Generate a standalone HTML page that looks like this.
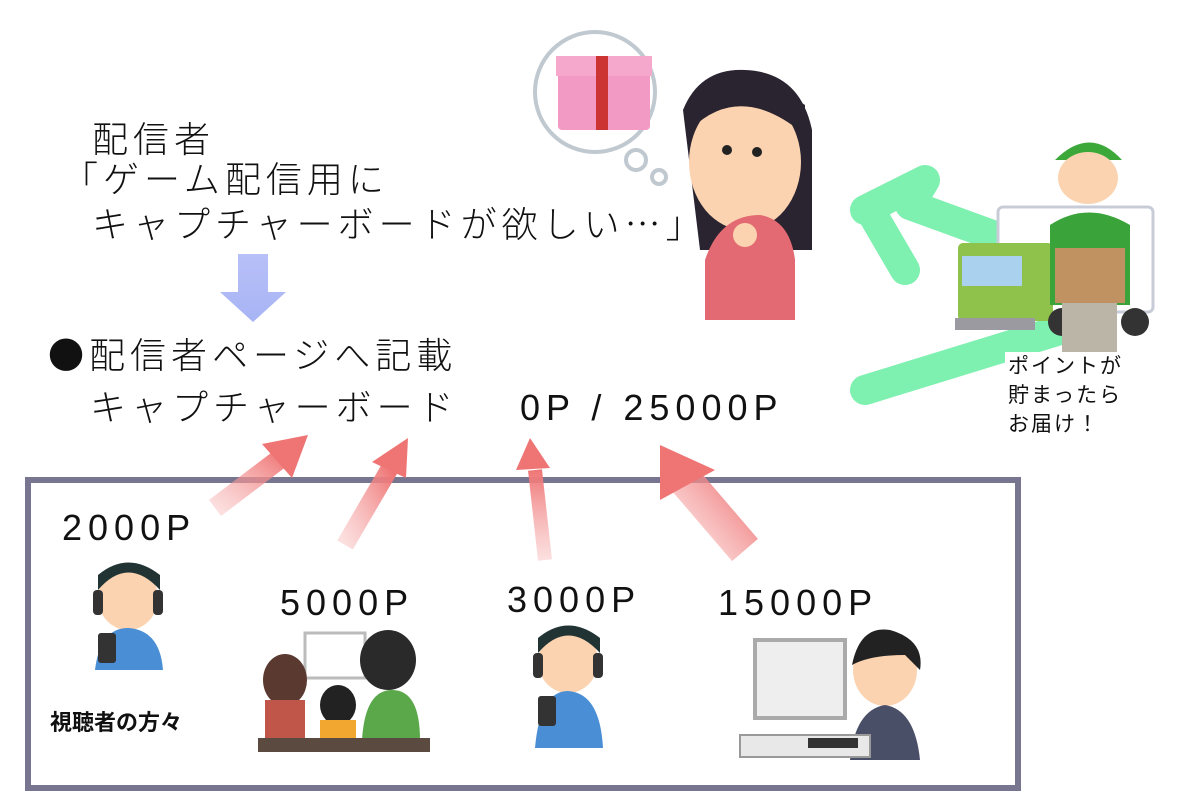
<!DOCTYPE html>
<html><head><meta charset="utf-8"><style>
html,body{margin:0;padding:0;background:#fff;}
svg{display:block;}
text{font-family:"Liberation Sans","Noto Sans CJK JP",sans-serif;fill:#111;}
.jp{font-family:"Noto Sans CJK JP",sans-serif;}
</style></head><body>
<svg width="1200" height="800" viewBox="0 0 1200 800" xmlns="http://www.w3.org/2000/svg">
<defs>
<linearGradient id="pg" x1="0" y1="1" x2="1" y2="0"><stop offset="0" stop-color="#f7b0b0" stop-opacity="0.4"/><stop offset="1" stop-color="#ef7575"/></linearGradient>
<linearGradient id="pg2" x1="0" y1="1" x2="0" y2="0"><stop offset="0" stop-color="#f7b0b0" stop-opacity="0.4"/><stop offset="1" stop-color="#ef7575"/></linearGradient>
<linearGradient id="bg" x1="0" y1="0" x2="0" y2="1"><stop offset="0" stop-color="#b8c0f8"/><stop offset="1" stop-color="#a7b4f4"/></linearGradient>
</defs>
<!-- texts -->
<g font-size="36" font-weight="300" class="jp">
<text class="jp" x="92" y="152" letter-spacing="5">配信者</text>
<text class="jp" x="62" y="192" letter-spacing="5">「ゲーム配信用に</text>
<text class="jp" x="92" y="237" letter-spacing="5">キャプチャーボードが欲しい…」</text>
<text class="jp" x="48" y="368" letter-spacing="5">●配信者ページへ記載</text>
<text class="jp" x="90" y="420" letter-spacing="5">キャプチャーボード</text>
</g>
<text x="520" y="420" font-size="36" letter-spacing="6">0P / 25000P</text>
<!-- blue arrow -->
<path d="M238 254 H268 V292 H286 L253 322 L220 292 H238 Z" fill="url(#bg)"/>
<!-- thought bubble -->
<ellipse cx="595" cy="92" rx="60" ry="60" fill="#fff" stroke="#c0c8d0" stroke-width="4"/>
<circle cx="636" cy="160" r="10" fill="#fff" stroke="#c0c8d0" stroke-width="4"/>
<circle cx="659" cy="177" r="7" fill="#fff" stroke="#c0c8d0" stroke-width="4"/>
<rect x="558" y="62" width="92" height="68" rx="4" fill="#f39ac4"/>
<rect x="556" y="56" width="96" height="20" fill="#f6a8cc"/>
<rect x="596" y="56" width="12" height="74" fill="#c33"/>
<!-- woman -->
<path d="M683 110 Q700 68 745 70 Q800 72 812 130 L812 250 L700 250 Z" fill="#2a2330"/>
<ellipse cx="745" cy="162" rx="56" ry="68" fill="#fbd3b0"/>
<path d="M690 130 Q740 80 805 135 L805 105 Q745 65 690 110 Z" fill="#2a2330"/>
<path d="M705 260 Q720 215 760 215 Q790 220 795 260 L795 320 L705 320 Z" fill="#e36a72"/>
<circle cx="745" cy="235" r="12" fill="#fbd3b0"/>
<circle cx="727" cy="150" r="5" fill="#222"/><circle cx="757" cy="152" r="5" fill="#222"/>
<!-- green arrow -->
<path d="M865 210 L925 180 L910 205 L1020 245" stroke="#7ef0b0" stroke-width="30" fill="none" stroke-linecap="round" stroke-linejoin="round"/>
<path d="M870 210 L905 270" stroke="#7ef0b0" stroke-width="30" stroke-linecap="round"/>
<path d="M865 390 L1060 330" stroke="#7ef0b0" stroke-width="30" stroke-linecap="round"/>
<!-- truck -->
<rect x="998" y="207" width="155" height="105" rx="5" fill="#fff" stroke="#c8ccd8" stroke-width="3"/>
<rect x="958" y="243" width="95" height="78" rx="5" fill="#8fc24a"/>
<rect x="962" y="256" width="60" height="30" fill="#aad2ef"/>
<rect x="955" y="318" width="80" height="12" fill="#9a9aa0"/>
<circle cx="1062" cy="322" r="14" fill="#333"/><circle cx="1135" cy="322" r="14" fill="#333"/>
<!-- delivery man -->
<path d="M1055 160 Q1090 125 1122 160 Z" fill="#3da83a"/>
<ellipse cx="1088" cy="178" rx="30" ry="26" fill="#fbd3b0"/>
<path d="M1050 225 Q1088 200 1130 225 L1130 305 L1050 305 Z" fill="#3aa43a"/>
<rect x="1055" y="248" width="70" height="55" fill="#c09262"/>
<rect x="1062" y="303" width="55" height="60" fill="#bbb5a8"/>
<rect x="1005" y="352" width="140" height="92" fill="#fff"/>
<g font-size="21" class="jp"><text class="jp" x="1008" y="373" letter-spacing="2">ポイントが</text><text class="jp" x="1008" y="402" letter-spacing="2">貯まったら</text><text class="jp" x="1008" y="431" letter-spacing="2">お届け！</text></g>
<!-- box -->
<rect x="28" y="480" width="990" height="308" fill="none" stroke="#777590" stroke-width="6"/>
<!-- pink arrows -->
<path d="M215 508 L285 455" stroke="url(#pg)" stroke-width="20"/><path d="M308 435 L262 444 L292 478 Z" fill="#ef7575"/>
<path d="M345 545 L390 468" stroke="url(#pg)" stroke-width="18"/><path d="M408 438 L372 462 L406 478 Z" fill="#ef7575"/>
<path d="M545 560 L535 470" stroke="url(#pg2)" stroke-width="14"/><path d="M530 438 L516 470 L550 468 Z" fill="#ef7575"/>
<path d="M745 550 L685 480" stroke="url(#pg)" stroke-width="34"/><path d="M660 445 L660 500 L715 470 Z" fill="#ef7575"/>
<g font-size="36" letter-spacing="6">
<text x="62" y="540">2000P</text>
<text x="280" y="615">5000P</text>
<text x="507" y="612">3000P</text>
<text x="718" y="615">15000P</text>
</g>
<text x="50" y="730" font-size="22" font-weight="bold">視聴者の方々</text>
<!-- viewer 1 -->
<g>
<ellipse cx="128" cy="598" rx="30" ry="32" fill="#fbd3b0"/>
<path d="M98 590 Q128 555 160 590 L160 575 Q128 550 98 575 Z" fill="#233"/>
<rect x="93" y="590" width="10" height="25" rx="4" fill="#333"/><rect x="153" y="590" width="10" height="25" rx="4" fill="#333"/>
<path d="M95 670 Q100 628 128 628 Q160 630 163 670 Z" fill="#4a8fd6"/>
<rect x="98" y="633" width="18" height="30" rx="3" fill="#333"/>
</g>
<g transform="translate(440,63)">
<ellipse cx="128" cy="598" rx="30" ry="32" fill="#fbd3b0"/>
<path d="M98 590 Q128 555 160 590 L160 575 Q128 550 98 575 Z" fill="#233"/>
<rect x="93" y="590" width="10" height="25" rx="4" fill="#333"/><rect x="153" y="590" width="10" height="25" rx="4" fill="#333"/>
<path d="M95 685 Q100 628 128 628 Q160 630 163 685 Z" fill="#4a8fd6"/>
<rect x="98" y="633" width="18" height="30" rx="3" fill="#333"/>
</g>
<!-- family -->
<rect x="305" y="633" width="60" height="45" fill="#fff" stroke="#bbb" stroke-width="3"/>
<ellipse cx="285" cy="680" rx="22" ry="26" fill="#5a3a30"/>
<rect x="265" y="700" width="40" height="40" fill="#c0554a"/>
<ellipse cx="388" cy="660" rx="28" ry="30" fill="#2a2a2a"/>
<path d="M362 740 Q365 690 392 690 Q420 690 420 740 Z" fill="#5aa84a"/>
<ellipse cx="338" cy="705" rx="18" ry="20" fill="#222"/>
<rect x="320" y="720" width="36" height="22" fill="#f2a830"/>
<rect x="258" y="738" width="172" height="14" fill="#5a4a40"/>
<!-- pc man -->
<rect x="755" y="640" width="90" height="78" fill="#eee" stroke="#aaa" stroke-width="4"/>
<ellipse cx="885" cy="670" rx="32" ry="36" fill="#fbd3b0"/>
<path d="M852 665 Q860 625 890 630 Q925 640 920 670 L905 655 Q870 655 852 665 Z" fill="#222"/>
<path d="M850 760 Q855 710 885 705 Q915 710 920 760 Z" fill="#4a4f68"/>
<rect x="740" y="735" width="130" height="22" fill="#e8e8e8" stroke="#999" stroke-width="2"/>
<rect x="808" y="738" width="50" height="10" fill="#333"/>
</svg>
</body></html>
